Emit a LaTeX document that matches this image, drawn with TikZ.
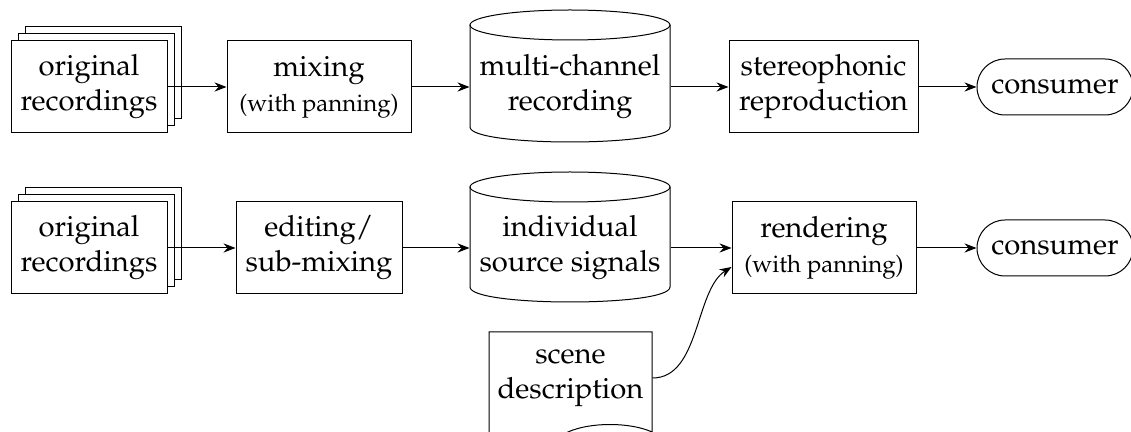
\documentclass[tikz,border=0pt]{standalone}
\usepackage[T1]{fontenc}
\usepackage{mathpazo}
\usetikzlibrary{arrows.meta,calc}
\begin{document}
\begin{tikzpicture}[x=0.5pt,y=-0.5pt, line width=0.5pt,
  every node/.style={font=\fontsize{14.6}{17.5}\selectfont, align=center, inner sep=0pt},
  box/.style={draw, fill=white, minimum height=46pt},
  term/.style={draw, rounded corners=14pt, minimum height=28pt, minimum width=78pt},
  arr/.style={-{Stealth[length=6pt,width=4.6pt,inset=2pt]}}]
\useasboundingbox (0,0) rectangle (1131,432);
% ---- row 1
\draw[fill=white] (25,27) rectangle (181,119);
\draw[fill=white] (18,34) rectangle (174,126);
\node[box, minimum width=78pt] (orig1) at (89,87) {original\\recordings};
\node[box, minimum width=92pt] (mix) at (319,87) {mixing\\{\fontsize{12}{17.5}\selectfont (with panning)}};
\draw (570,25) ellipse [x radius=100, y radius=15];
\draw (470,25) -- (470,127) .. controls (470,147) and (670,147) .. (670,127) -- (670,25);
\node[minimum width=100pt] (cyl1) at (570,87) {multi-channel\\recording};
\node[box, minimum width=94.5pt] (stereo) at (823.5,87) {stereophonic\\reproduction};
\node[term] (cons1) at (1055,87) {consumer};
\draw[arr] (orig1) -- (mix);
\draw[arr] (mix) -- (cyl1);
\draw[arr] (cyl1) -- (stereo);
\draw[arr] (stereo) -- (cons1);
% ---- row 2
\draw[fill=white] (25,188) rectangle (181,280);
\draw[fill=white] (18,195) rectangle (174,287);
\node[box, minimum width=78pt] (orig2) at (89,248) {original\\recordings};
\node[box, minimum width=83pt] (edit) at (319,248) {editing/\\sub-mixing};
\draw (570,187) ellipse [x radius=100, y radius=15];
\draw (470,187) -- (470,287) .. controls (470,307) and (670,307) .. (670,287) -- (670,187);
\node[minimum width=100pt] (cyl2) at (570,248) {individual\\source signals};
\node[box, minimum width=92pt] (rend) at (824,248) {rendering\\{\fontsize{12}{17.5}\selectfont (with panning)}};
\node[term] (cons2) at (1055,248) {consumer};
\draw[arr] (orig2) -- (edit);
\draw[arr] (edit) -- (cyl2);
\draw[arr] (cyl2) -- (rend);
\draw[arr] (rend) -- (cons2);
% ---- scene description
\draw (489,460) -- (489,332) -- (652,332) -- (652,432)
  .. controls (630,422) and (590,422) .. (568,432)
  .. controls (545,443) and (510,448) .. (489,444);
\node[minimum width=81.5pt] (scene) at (570.5,378) {scene\\description};
\coordinate (rendin) at ([yshift=-9.5pt]rend.west);
\draw[arr] (scene.east) .. controls (700,378) and (695,290) .. (rendin);
\end{tikzpicture}
\end{document}
